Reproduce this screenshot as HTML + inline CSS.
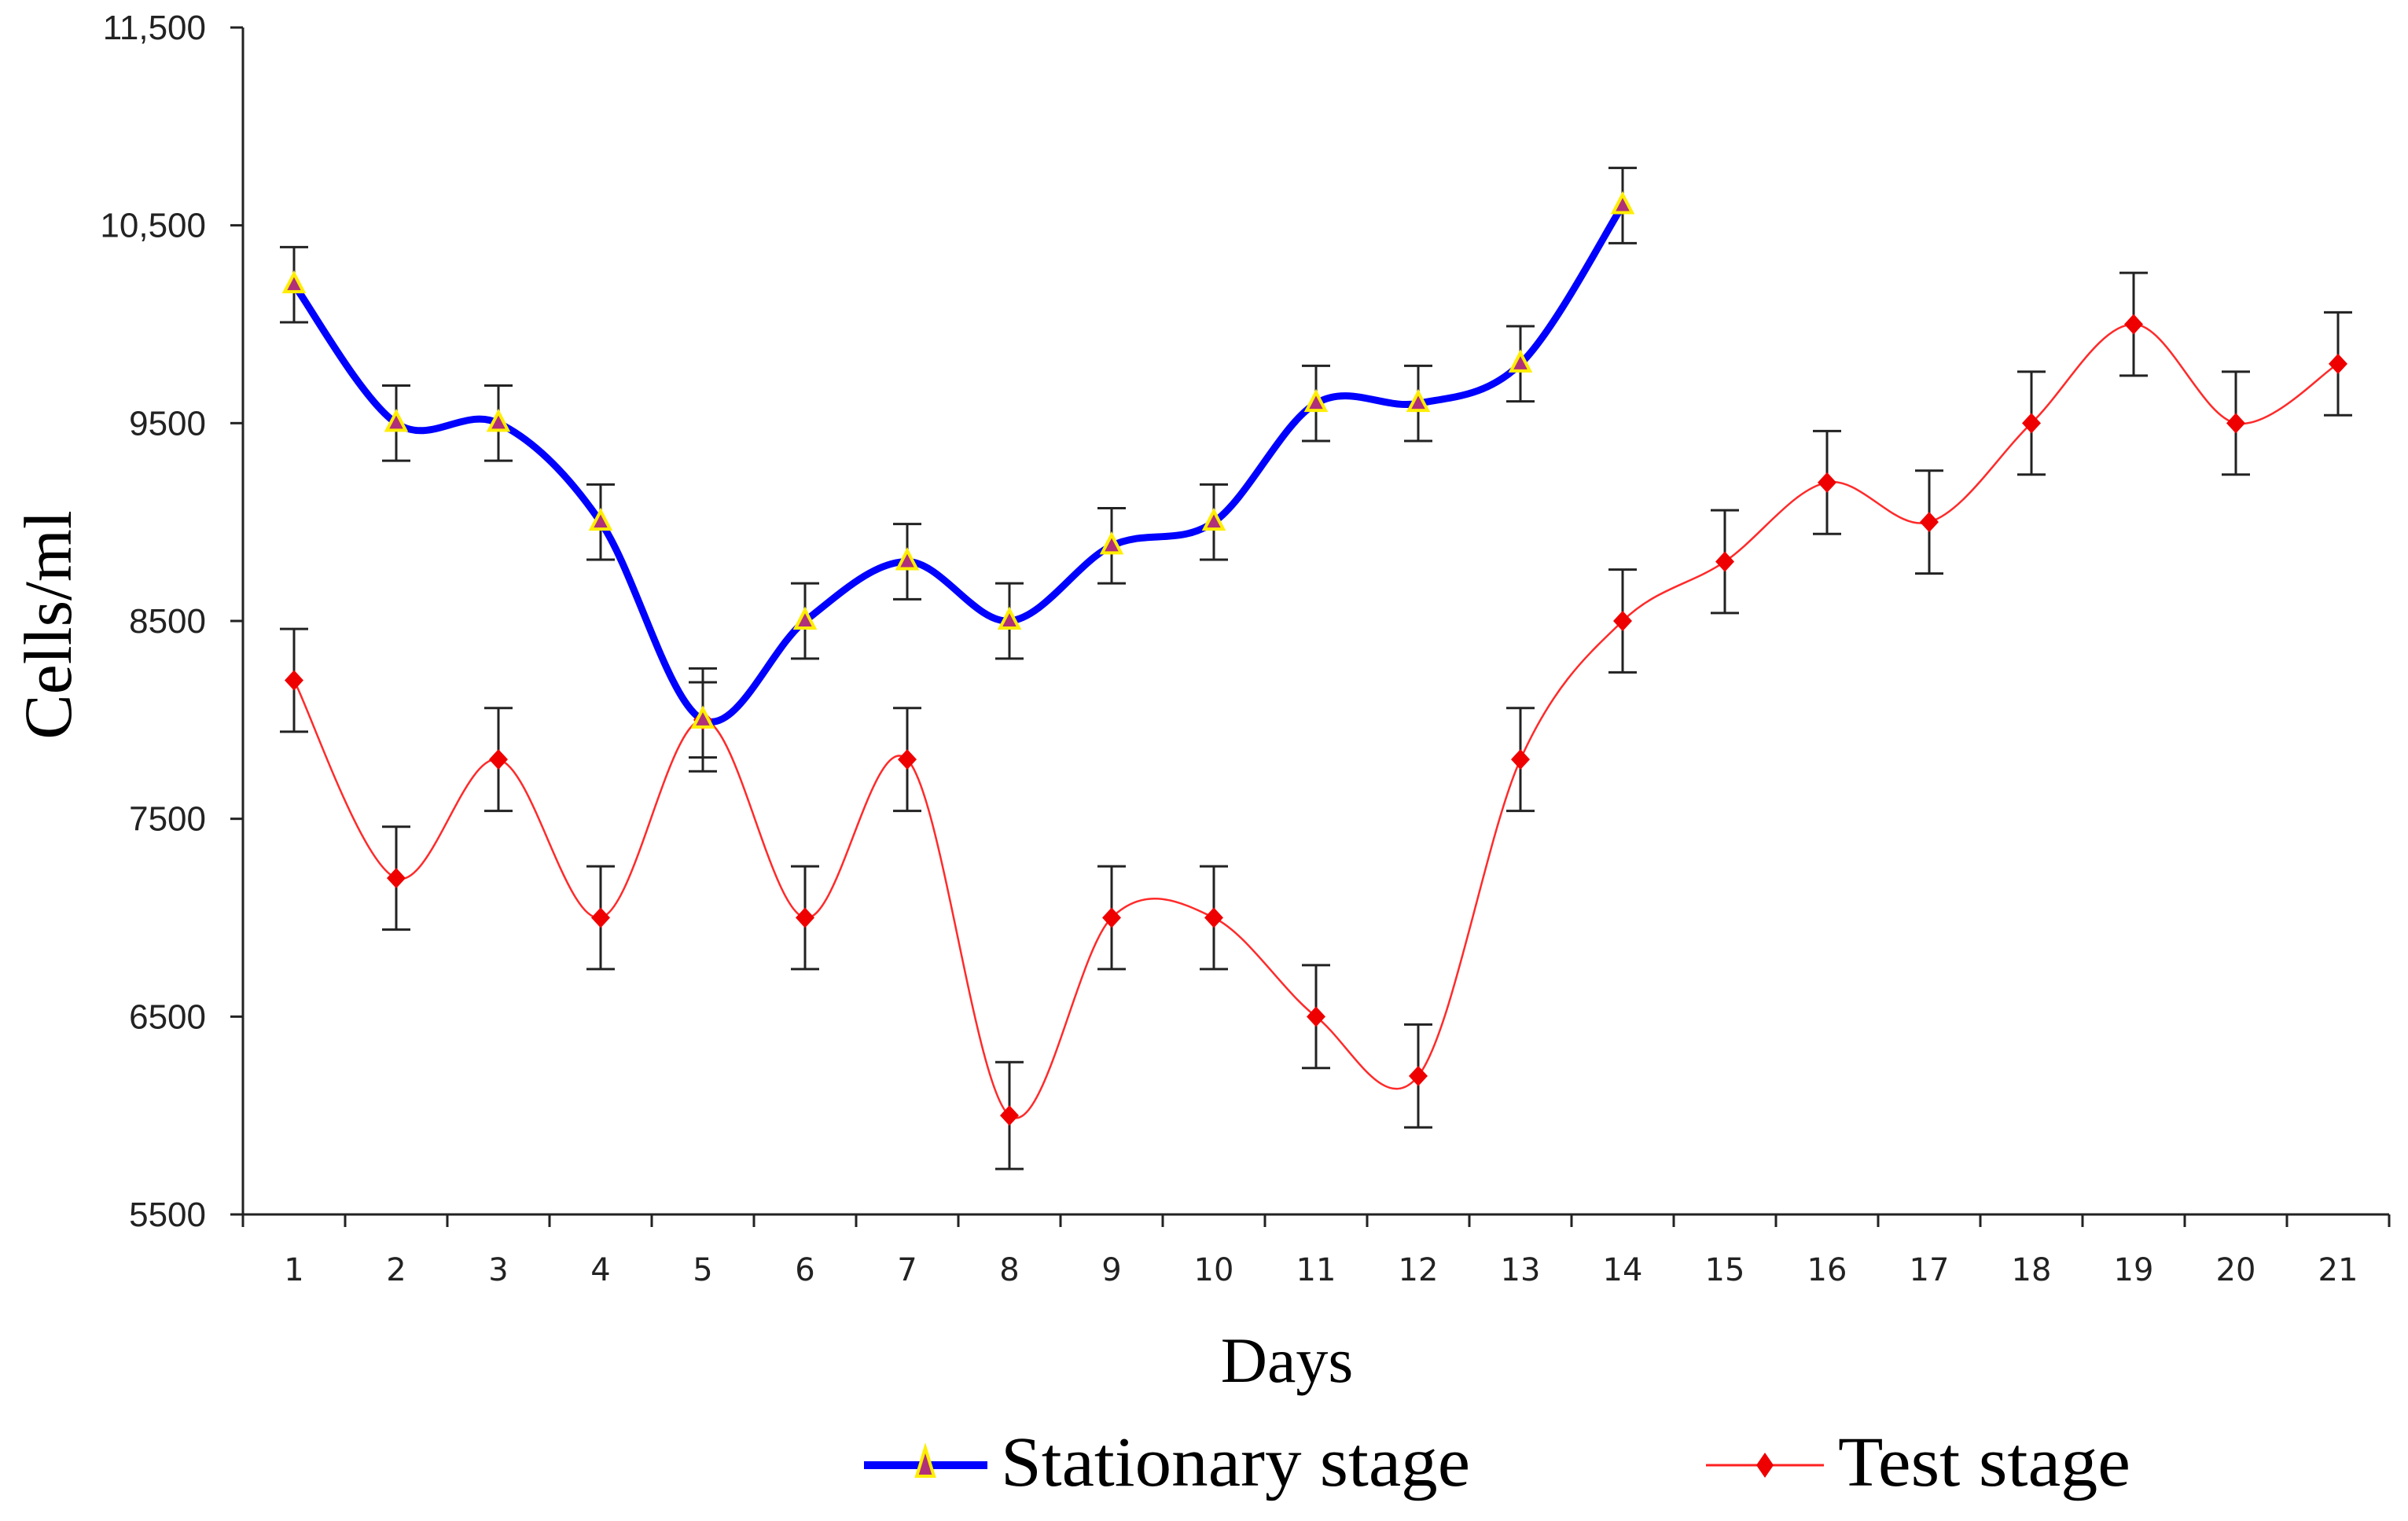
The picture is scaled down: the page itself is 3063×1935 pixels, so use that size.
<!DOCTYPE html>
<html><head><meta charset="utf-8"><style>
html,body{margin:0;padding:0;background:#fff;}
svg{display:block;}
</style></head><body>
<svg id="chart" width="3063" height="1935" viewBox="0 0 3063 1935" xmlns="http://www.w3.org/2000/svg">
<g id="axes"></g>
<g id="series"></g>
<text x="0" y="0" transform="translate(90,795) rotate(-90)" text-anchor="middle" font-family="Liberation Serif, serif" font-size="86">Cells/ml</text>
<text x="1637" y="1758" text-anchor="middle" font-family="Liberation Serif, serif" font-size="82">Days</text>
<g>
  <g>
    <line x1="1099" y1="1864" x2="1256" y2="1864" stroke="#0000ff" stroke-width="10"/>
    <polygon points="1177,1842 1188,1878 1166,1878" fill="#b0307a" stroke="#ffee00" stroke-width="4"/>
    <text x="1273" y="1890" font-family="Liberation Serif, serif" font-size="90" textLength="597" lengthAdjust="spacingAndGlyphs">Stationary stage</text>
  </g>
  <g>
    <line x1="2170" y1="1864" x2="2320" y2="1864" stroke="#ff2020" stroke-width="3"/>
    <polygon points="2245,1848 2256,1864 2245,1880 2234,1864" fill="#ee0000"/>
    <text x="2338" y="1890" font-family="Liberation Serif, serif" font-size="90" textLength="372" lengthAdjust="spacingAndGlyphs">Test stage</text>
  </g>
</g>
</svg>
<script>
const days = ["1","2","3","4","5","6","7","8","9","10","11","12","13","14","15","16","17","18","19","20","21"];
const yTicks = [5500,6500,7500,8500,9500,10500,11500];
const yTickLabels = ["5500","6500","7500","8500","9500","10,500","11,500"];
const stationary = [10200,9500,9500,9000,8000,8500,8800,8500,8880,9000,9600,9600,9800,10600];
const stationaryErr = [190,190,190,190,190,190,190,190,190,190,190,190,190,190];
const test = [8200,7200,7800,7000,8000,7000,7800,6000,7000,7000,6500,6200,7800,8500,8800,9200,9000,9500,10000,9500,9800];
const testErr = [260,260,260,260,260,260,260,270,260,260,260,260,260,260,260,260,260,260,260,260,260];

const NS = "http://www.w3.org/2000/svg";
const X0 = 309, X1 = 3039, Y0 = 1545, Y1 = 35, YMIN = 5500, YMAX = 11500;
const cw = (X1 - X0) / days.length;
function xs(i){ return X0 + cw*(i+0.5); }
function ys(v){ return Y0 - (v - YMIN)/(YMAX - YMIN)*(Y0 - Y1); }
function mk(tag, attrs, parent){ const e = document.createElementNS(NS, tag); for (const k in attrs) e.setAttribute(k, attrs[k]); parent.appendChild(e); return e; }

const axes = document.getElementById('axes');
let a = mk('line', {x1:X0,y1:Y1,x2:X0,y2:Y0,stroke:'#222','stroke-width':3}, axes);


a = mk('line', {x1:X0-1,y1:Y0,x2:X1,y2:Y0,stroke:'#222','stroke-width':3}, axes);


yTicks.forEach((v,i)=>{
  const t = mk('line', {x1:X0-16,y1:ys(v),x2:X0,y2:ys(v),stroke:'#222','stroke-width':3}, axes);
  
  
  const l = mk('text', {x:262,y:ys(v)+15,'text-anchor':'end','font-family':'Liberation Sans, sans-serif','font-size':44,fill:'#222'}, axes);
  l.textContent = yTickLabels[i];
  
  
});
for (let i=0;i<=days.length;i++){
  const x = X0 + cw*i;
  const t = mk('line', {x1:x,y1:Y0,x2:x,y2:Y0+16,stroke:'#222','stroke-width':3}, axes);
  
  
}
days.forEach((d,i)=>{
  const l = mk('text', {x:xs(i),y:1629,'text-anchor':'middle','font-family':'DejaVu Sans, sans-serif','font-size':40,fill:'#222'}, axes);
  l.textContent = d;
  
  
});

function smoothPath(vals){
  const p = vals.map((v,i)=>[xs(i), ys(v)]);
  let d = 'M'+p[0][0]+','+p[0][1];
  for (let i=0;i<p.length-1;i++){
    const p0 = p[i-1]||p[i], p1=p[i], p2=p[i+1], p3=p[i+2]||p[i+1];
    const c1x = p1[0]+(p2[0]-p0[0])/6, c1y = p1[1]+(p2[1]-p0[1])/6;
    const c2x = p2[0]-(p3[0]-p1[0])/6, c2y = p2[1]-(p3[1]-p1[1])/6;
    d += ' C'+c1x+','+c1y+' '+c2x+','+c2y+' '+p2[0]+','+p2[1];
  }
  return d;
}
const series = document.getElementById('series');
function errBars(vals, errs, name){
  vals.forEach((v,i)=>{
    const g = mk('g', {stroke:'#222','stroke-width':3}, series);
    
    
    const x = xs(i), t = ys(v+errs[i]), b = ys(v-errs[i]);
    mk('line', {x1:x,y1:t,x2:x,y2:b}, g);
    mk('line', {x1:x-18,y1:t,x2:x+18,y2:t}, g);
    mk('line', {x1:x-18,y1:b,x2:x+18,y2:b}, g);
  });
}
errBars(stationary, stationaryErr, 'stationary-error-bar');
errBars(test, testErr, 'test-error-bar');

let pth = mk('path', {d:smoothPath(test),fill:'none',stroke:'#ff2a2a','stroke-width':2.5}, series);


pth = mk('path', {d:smoothPath(stationary),fill:'none',stroke:'#0000ff','stroke-width':9}, series);



test.forEach((v,i)=>{
  const x = xs(i), y = ys(v);
  const m = mk('polygon', {points:`${x},${y-13} ${x+12},${y} ${x},${y+13} ${x-12},${y}`, fill:'#ee0000'}, series);
  
  
});
stationary.forEach((v,i)=>{
  const x = xs(i), y = ys(v);
  const m = mk('polygon', {points:`${x},${y-14} ${x+12},${y+9} ${x-12},${y+9}`, fill:'#b0307a', stroke:'#ffee00','stroke-width':4}, series);
  
  
});
</script>
</body></html>
